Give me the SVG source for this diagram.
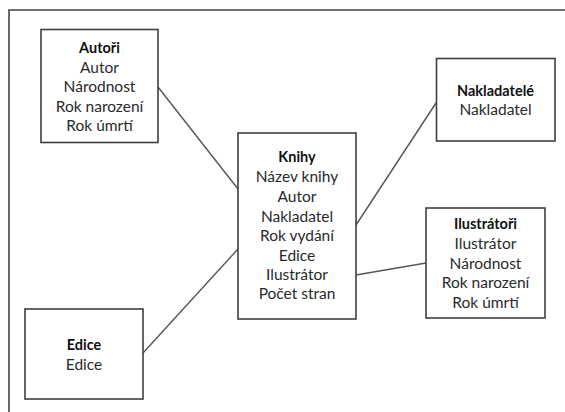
<svg xmlns="http://www.w3.org/2000/svg" width="565" height="412" viewBox="0 0 565 412">
<style>
.frame{fill:none;stroke:#444;stroke-width:1.6}
.box{fill:#fff;stroke:#3f3f3f;stroke-width:1.6}
.conn{fill:none;stroke:#555;stroke-width:1.4}
text{font-family:Lato,"Open Sans","Liberation Sans",sans-serif;font-size:15.5px;fill:#2a2a2a;text-anchor:middle}
.t{font-weight:bold;fill:#111;font-size:14.5px}
</style>
<rect width="565" height="412" fill="#fff"/>
<path class="frame" d="M9,412 V10 H566"/>
<g id="connectors">
<line class="conn" x1="158" y1="87" x2="238" y2="189"/>
<line class="conn" x1="143" y1="353" x2="238" y2="249"/>
<line class="conn" x1="356" y1="225" x2="436" y2="103"/>
<line class="conn" x1="356" y1="275" x2="426" y2="263"/>
</g>
<g id="autori">
<rect class="box" x="41" y="29.5" width="117" height="113"/>
<text class="t" x="99.5" y="52.5">Autoři</text>
<text x="99.5" y="72.5">Autor</text>
<text x="99.5" y="92">Národnost</text>
<text x="99.5" y="111.5">Rok narození</text>
<text x="99.5" y="131">Rok úmrtí</text>
</g>
<g id="knihy">
<rect class="box" x="238" y="133" width="118" height="186"/>
<text class="t" x="297" y="162">Knihy</text>
<text x="297" y="182">Název knihy</text>
<text x="297" y="201.5">Autor</text>
<text x="297" y="221.5">Nakladatel</text>
<text x="297" y="241">Rok vydání</text>
<text x="297" y="260.5">Edice</text>
<text x="297" y="280">Ilustrátor</text>
<text x="297" y="299">Počet stran</text>
</g>
<g id="nakladatele">
<rect class="box" x="436.5" y="58.5" width="118.5" height="82.5"/>
<text class="t" x="495.5" y="96">Nakladatelé</text>
<text x="495.5" y="115">Nakladatel</text>
</g>
<g id="ilustratori">
<rect class="box" x="426" y="208" width="119" height="110"/>
<text class="t" x="485.5" y="228.5">Ilustrátoři</text>
<text x="485.5" y="248.5">Ilustrátor</text>
<text x="485.5" y="268.5">Národnost</text>
<text x="485.5" y="288">Rok narození</text>
<text x="485.5" y="307.5">Rok úmrtí</text>
</g>
<g id="edice">
<rect class="box" x="25" y="309" width="118" height="90"/>
<text class="t" x="84" y="350">Edice</text>
<text x="84" y="370">Edice</text>
</g>
</svg>
